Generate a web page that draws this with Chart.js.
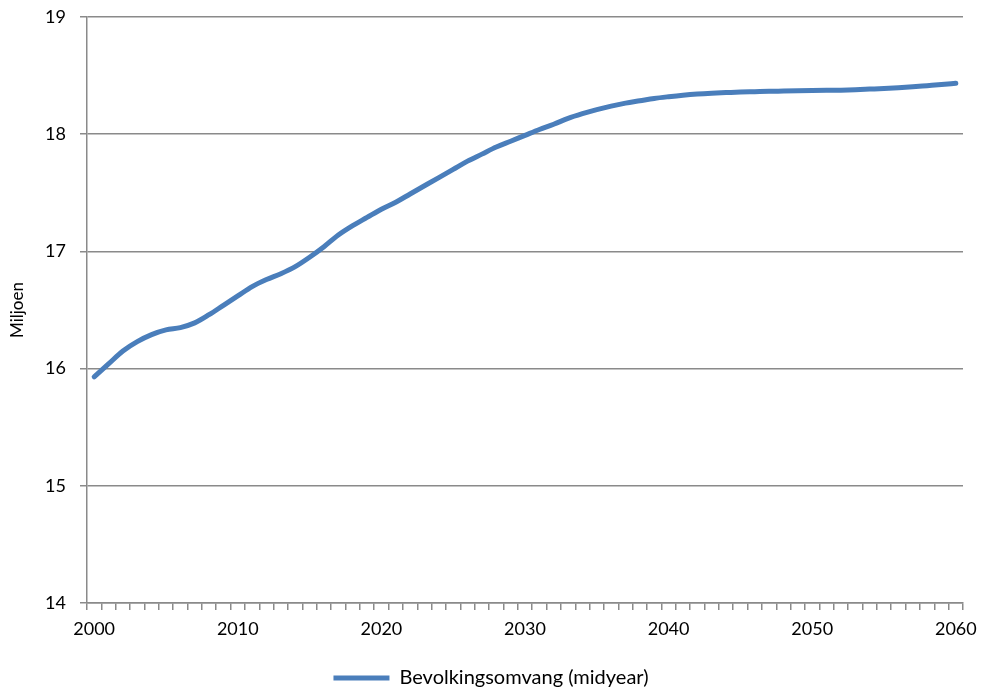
<!DOCTYPE html>
<html>
<head>
<meta charset="utf-8">
<title>Bevolkingsomvang</title>
<script src="https://cdn.jsdelivr.net/npm/chart.js@4"></script>
<style>
  html, body { margin: 0; padding: 0; background: #ffffff; }
  canvas { display: block; }
</style>
</head>
<body>
<canvas id="chart" width="982" height="698"></canvas>
<script>
// Years on the category axis (2000 through 2060)
const years = [
  2000, 2001, 2002, 2003, 2004, 2005, 2006, 2007, 2008, 2009,
  2010, 2011, 2012, 2013, 2014, 2015, 2016, 2017, 2018, 2019,
  2020, 2021, 2022, 2023, 2024, 2025, 2026, 2027, 2028, 2029,
  2030, 2031, 2032, 2033, 2034, 2035, 2036, 2037, 2038, 2039,
  2040, 2041, 2042, 2043, 2044, 2045, 2046, 2047, 2048, 2049,
  2050, 2051, 2052, 2053, 2054, 2055, 2056, 2057, 2058, 2059,
  2060
];

// Population at mid-year, in millions
const population = [
  15.93, 16.04, 16.15, 16.23, 16.29, 16.33, 16.35, 16.39, 16.46, 16.54,
  16.62, 16.70, 16.76, 16.81, 16.87, 16.95, 17.04, 17.14, 17.22, 17.29,
  17.36, 17.42, 17.49, 17.56, 17.63, 17.70, 17.77, 17.83, 17.89, 17.94,
  17.99, 18.04, 18.085, 18.135, 18.175, 18.21, 18.24, 18.265, 18.285, 18.305,
  18.32, 18.333, 18.343, 18.35, 18.355, 18.36, 18.363, 18.366, 18.368, 18.37,
  18.372, 18.374, 18.376, 18.38, 18.385, 18.39, 18.396, 18.404, 18.414, 18.424,
  18.435
];

// Value axis ticks
const yTicks = [14, 15, 16, 17, 18, 19];

const seriesName = 'Bevolkingsomvang (midyear)';
const axisTitle = 'Miljoen';

const lineColor = '#4A7EBB';
const gridColor = '#8A8A8A';
const fontFamily = 'Lato, "Open Sans", sans-serif';

new Chart(document.getElementById('chart'), {
  type: 'line',
  data: {
    labels: years.map(String),
    datasets: [{
      label: seriesName,
      data: population,
      borderColor: lineColor,
      backgroundColor: lineColor,
      borderWidth: 5,
      borderCapStyle: 'round',
      borderJoinStyle: 'round',
      pointRadius: 0,
      pointHoverRadius: 0,
      cubicInterpolationMode: 'monotone',
      fill: false
    }]
  },
  options: {
    responsive: false,
    animation: false,
    devicePixelRatio: 1,
    layout: { padding: { left: 0, right: 0, top: 17, bottom: 0 } },
    plugins: {
      tooltip: { enabled: false },
      legend: {
        position: 'bottom',
        labels: {
          color: '#000000',
          font: { family: fontFamily, size: 20 },
          boxWidth: 56,
          boxHeight: 5,
          padding: 9,
          useBorderRadius: true,
          borderRadius: 2.5,
          generateLabels: (chart) => chart.data.datasets.map((ds, i) => ({
            text: ds.label,
            fillStyle: ds.borderColor,
            strokeStyle: ds.borderColor,
            lineWidth: 0,
            hidden: false,
            datasetIndex: i
          }))
        }
      }
    },
    scales: {
      x: {
        type: 'category',
        offset: true,
        grid: {
          offset: true,
          drawOnChartArea: false,
          drawTicks: true,
          tickLength: 7,
          color: gridColor,
          lineWidth: 1.5
        },
        border: { display: true, color: gridColor, width: 1.5 },
        ticks: {
          autoSkip: false,
          maxRotation: 0,
          minRotation: 0,
          padding: 8,
          color: '#000000',
          font: { family: fontFamily, size: 18 },
          callback: (value, index) => (years[index] % 10 === 0 ? String(years[index]) : '')
        },
        afterFit: (scale) => {
          scale.height = 56;
          scale.paddingLeft = 0;
          scale.paddingRight = 0;
        }
      },
      y: {
        min: yTicks[0],
        max: yTicks[yTicks.length - 1],
        afterBuildTicks: (scale) => {
          scale.ticks = yTicks.map(v => ({ value: v }));
        },
        grid: {
          drawTicks: true,
          tickLength: 7,
          color: gridColor,
          lineWidth: 1.5
        },
        border: { display: true, color: gridColor, width: 1.5 },
        ticks: {
          padding: 14,
          color: '#000000',
          font: { family: fontFamily, size: 18 }
        },
        title: {
          display: true,
          text: axisTitle,
          color: '#000000',
          font: { family: fontFamily, size: 17 },
          padding: { top: 7, bottom: 0 }
        },
        afterFit: (scale) => {
          scale.width = 87;
          scale.paddingTop = 0;
          scale.paddingBottom = 0;
        }
      },
      // Empty right-hand strip that keeps a margin beside the plot
      margin: {
        type: 'linear',
        position: 'right',
        display: true,
        grid: { display: false, drawTicks: false },
        border: { display: false },
        ticks: { display: false },
        afterFit: (scale) => {
          scale.width = 19;
          scale.paddingTop = 0;
          scale.paddingBottom = 0;
        }
      }
    }
  }
});
</script>
</body>
</html>
